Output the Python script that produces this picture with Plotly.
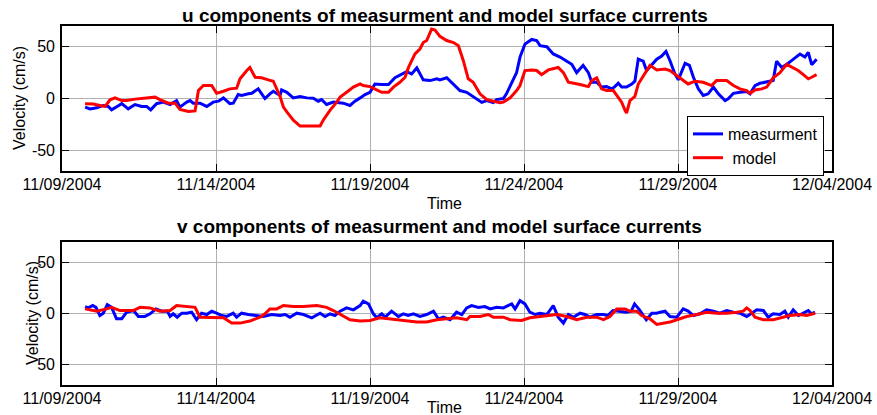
import pandas as pd
import plotly.graph_objects as go

# ---------------- data (days since 11/09/2004 00:00, velocity cm/s) ----------------
u_meas_t = [0.75,0.91,1.13,1.34,1.50,1.61,1.83,1.94,2.15,2.37,2.59,2.75,2.88,3.07,3.29,3.51,3.72,3.83,4.05,4.16,
            4.26,4.48,4.70,4.91,5.08,5.24,5.45,5.56,5.72,5.83,6.05,6.16,6.37,6.59,6.75,6.86,7.08,7.13,7.30,7.51,
            7.73,7.95,8.16,8.32,8.43,8.59,8.81,9.13,9.35,9.51,9.68,
            9.84,10.0,10.16,10.38,10.60,10.81,11.03,11.19,11.35,11.52,11.73,11.95,12.17,12.27,12.49,12.71,12.92,13.14,13.35,13.63,
            13.79,14.00,14.11,14.33,14.43,14.60,14.76,14.87,15.03,15.25,15.41,15.52,15.74,15.95,16.17,16.39,16.55,16.71,16.92,17.09,
            17.20,17.36,17.52,17.68,17.85,17.95,18.06,18.17,18.33,18.50,18.60,18.71,18.87,18.98,19.14,19.31,19.47,19.61,19.74,19.90,
            20.01,20.12,20.23,20.37,20.50,20.66,20.82,20.98,21.15,21.31,21.53,21.63,21.80,22.01,22.23,22.34,22.50,22.66,22.88,23.09,
            23.20,23.37,23.53,23.74,23.96,24.12,24.23,24.34,24.50]
u_meas_v = [-8.3,-10,-9,-6.7,-7.7,-11,-7,-5,-10,-5.8,-7.7,-7.7,-11,-5,-3.5,-5.8,-2,-8.3,-3.5,-2,
            -4.5,-4.5,-7.7,-3.5,-2.6,0.6,-5,-4.5,3.8,2.9,4.5,5,9.3,0,4.5,7,2.9,8.3,6,0.6,
            2,0.6,0.3,-2.6,-1,-5.8,-3.5,-4.5,-6.7,-2.6,0.6,
            3.8,6,14,13.5,13.5,20,23.7,26,23.7,29.5,18,17.3,19,18,20,14,7.7,6,2,-3.8,
            -2,-4,-1,0,4.5,15.7,25,40,52.5,57,56,51,50,43,40,36,33,25,32,25,
            15.7,15.7,11,11.5,9.3,11.5,14.7,11,11,14,16.7,38,36,27,32,38,41,45.5,36.5,23.7,
            18,27,34,32,20.5,9.3,2.9,4.5,11,4.5,-2,-0.3,5,6,6.7,4.5,12.5,14.7,15.7,17.3,
            36,30,33,38,43,40,44.5,32.7,38]

u_model_t = [0.75,1.02,1.23,1.40,1.56,1.72,1.94,2.10,2.37,2.64,2.80,3.02,3.18,3.45,3.67,3.83,4.10,4.32,4.43,4.59,
             4.86,5.02,5.24,5.45,5.67,5.78,6.00,6.10,6.27,6.48,6.70,6.86,7.08,7.19,7.30,7.51,7.73,8.38,8.48,8.70,
             8.92,9.03,9.24,9.46,9.68,
             9.78,10.0,10.16,10.38,10.60,10.76,10.97,11.14,11.25,11.46,11.62,11.73,11.84,12.00,12.11,12.27,12.49,12.71,12.87,13.03,
             13.19,13.35,13.57,13.79,14.00,14.22,14.33,14.55,14.76,14.87,15.03,15.25,15.41,15.57,15.79,16.11,16.28,16.44,16.82,17.09,
             17.20,17.36,17.52,17.68,17.90,18.01,18.17,18.28,18.33,18.44,18.60,18.71,18.92,19.09,19.31,19.58,19.74,19.96,20.12,20.33,
             20.55,20.82,21.09,21.25,21.58,21.80,22.01,22.23,22.34,22.50,22.72,22.88,23.09,23.31,23.53,23.74,23.90,24.07,24.23,24.34,
             24.50]
u_model_v = [-5,-5.4,-6.7,-7.7,-1.3,0.6,-2,-2,-0.6,0,0.6,1.3,-1,-4.5,-4.5,-10.6,-12.5,-12,7.7,12.5,
             12.5,5,7,9.3,10,19,27,30,20.5,20,18,16.7,2,-8.3,-13,-21,-26.6,-26.6,-21,-11.5,
             -3.5,1.3,6,11,14,
             12.5,11.5,9.3,6,6,11,15.7,20.5,30,43,47.8,54,56,67,66,60,56,54,51,36.5,
             19,15.7,4.5,-1,-2.6,-4,-3.5,0.6,7.7,12.5,27,27.6,27,23,27.6,30,25,15.7,13.5,11.5,
             17.3,20,9.3,7.7,7.7,2.9,-3.5,-11.5,-14,-2,2,14,23.7,32,27.6,28.5,27,22,19,14,
             16.7,15.7,12.5,17.3,17.3,12.5,9.3,7.7,5,8.3,9.3,11,20,25,33,30,27,23,19,20.5,
             23]

v_meas_t = [0.75,0.85,1.00,1.10,1.23,1.34,1.47,1.61,1.77,1.94,2.10,2.32,2.48,2.69,2.86,3.05,3.24,3.42,3.51,3.61,
            3.74,3.89,4.05,4.21,4.37,4.53,4.70,4.86,5.02,5.18,5.35,5.56,5.67,5.83,6.05,6.32,6.54,6.81,6.97,
            7.08,7.24,7.40,7.62,7.84,8.11,8.38,8.54,8.70,8.86,9.03,9.24,9.46,9.68,9.78,9.95,10.11,10.22,10.38,10.49,
            10.70,10.92,11.08,11.24,11.41,11.62,11.84,12.06,12.22,12.38,12.60,12.81,12.98,13.14,
            13.30,13.52,13.73,13.90,14.11,14.33,14.60,14.71,14.87,15.03,15.19,15.36,15.52,15.74,15.95,16.11,16.28,16.44,16.60,16.82,
            16.98,17.14,17.36,17.58,17.72,17.89,18.10,18.32,18.48,18.59,18.75,18.97,19.15,19.31,
            19.42,19.58,19.74,19.96,20.17,20.33,20.50,20.71,20.93,21.15,21.36,21.58,21.80,22.01,22.23,22.39,22.56,22.77,22.93,23.09,
            23.31,23.47,23.58,23.74,23.91,24.07,24.23,24.33,24.45]
v_meas_v = [6.8,5.5,7.8,6,-2,0.3,8.7,6,-5.2,-5.2,1.3,2.9,-2.9,-2.9,-0.3,4.5,2.3,2.3,-2.9,-0.3,
            -3.6,0.3,0.3,1.3,-6.1,0.3,-1,2.3,0.3,-2,-2.9,0.3,-3.6,0.3,-1,-2,-2.9,-1,-2,
            -2,-1,-3.6,0.3,-1,-4.2,0.3,-2.9,-0.3,-2,2.3,5.5,3.6,7.8,12,9.4,-0.3,-4.2,-0.3,-3.6,
            2.3,-2.9,-0.3,-2,-0.3,-2.9,-1,2.3,-5.2,-3.6,-6.1,1.3,-1,5.5,
            7.8,6,6.8,4.5,6,5.5,9.4,4.5,12.6,9.4,1.3,-1,0.3,-1,7.8,-3.6,-9.4,-1,-3.6,0.3,
            -1,-3.6,-1,-1,-2,2.9,2.3,1.3,2.3,9.4,3.6,-6.1,0.3,0.3,
            1.3,2.3,-2.9,-3.6,4.5,2.3,-2,-0.3,3.6,2.3,0.3,2.9,1.3,0.3,-2.9,0.3,3.6,2.9,-3.6,-0.3,
            -1,2.3,-3.6,3.6,-2,0.3,2.9,-0.3,1.3]

v_model_t = [0.75,1.13,1.45,1.61,1.88,2.32,2.53,2.86,3.18,3.51,3.72,4.05,4.32,4.48,4.91,5.24,5.51,5.78,6.10,6.43,
             6.59,6.75,
             6.97,7.19,7.51,7.84,8.27,8.59,8.81,9.03,9.35,9.68,10.0,10.32,10.65,11.08,11.52,11.84,12.17,12.49,12.81,13.14,
             13.25,13.57,13.84,14.00,14.33,14.55,14.92,15.19,15.63,16.06,16.39,16.71,17.04,17.36,17.58,17.79,18.01,18.28,18.44,18.66,
             18.82,19.09,19.31,
             19.42,19.74,19.96,20.28,20.61,20.93,21.26,21.58,21.91,22.12,22.23,22.34,22.50,22.77,23.09,23.31,23.63,23.96,24.18,24.45]
v_model_v = [4.5,2.3,4.5,6,2.9,2.9,6,5.5,2.3,2.9,7.8,6.8,6,-3.6,-3.6,-4.2,-9.4,-9.4,-7.4,-3.6,
             -0.3,4.5,
             4.5,7.8,6.8,6.8,7.8,6,2.9,-1,-6.1,-7.4,-6.8,-4.2,-5.2,-6.8,-8.4,-8.4,-6.1,-5.2,-4.2,-6.1,
             -2.9,-2.9,-1,-3.6,-3.6,-6.1,-6.8,-4.2,-2.9,-1,-2.9,-6.1,-3.6,-3.6,-6.1,-2.9,4.5,4.5,2.3,2.3,
             -2,-5.2,-10.7,
             -10,-8.4,-6.1,-2.9,-1,1.3,0.3,0.3,1.3,2.3,5.5,2.9,-3.6,-6.1,-6.1,-4.2,-2,-1,-2,0.3]

start_date = "2004-11-09"
end_date = "2004-12-04"
tick_dates = ["2004-11-09", "2004-11-14", "2004-11-19", "2004-11-24", "2004-11-29", "2004-12-04"]
tick_labels = ["11/09/2004", "11/14/2004", "11/19/2004", "11/24/2004", "11/29/2004", "12/04/2004"]
y_ticks = [-50, 0, 50]
y_tick_labels_u = ["-50", "0", "50"]
y_tick_labels_v = ["50", "0", "50"]
series_names = ["measurment", " model"]
titles = ["u components of measurment and model surface currents",
          "v components of measurment and model surface currents"]

base = pd.Timestamp(start_date)
def to_dt(days):
    return base + pd.to_timedelta(days, unit="D")

W, H = 877, 415
FONT = "Liberation Sans, Arial, Helvetica, sans-serif"
BLUE, RED = "#0000FF", "#FF0000"

fig = go.Figure()
fig.add_trace(go.Scatter(x=to_dt(u_meas_t), y=u_meas_v, mode="lines", name=series_names[0],
                         line=dict(color=BLUE, width=3), xaxis="x", yaxis="y"))
fig.add_trace(go.Scatter(x=to_dt(u_model_t), y=u_model_v, mode="lines", name=series_names[1],
                         line=dict(color=RED, width=3), xaxis="x", yaxis="y"))
fig.add_trace(go.Scatter(x=to_dt(v_meas_t), y=v_meas_v, mode="lines", showlegend=False,
                         line=dict(color=BLUE, width=3), xaxis="x2", yaxis="y2"))
fig.add_trace(go.Scatter(x=to_dt(v_model_t), y=v_model_v, mode="lines", showlegend=False,
                         line=dict(color=RED, width=3), xaxis="x2", yaxis="y2"))

def px_x(p):
    return p / W
def px_y(p):
    return 1 - p / H

xdom = [px_x(62), px_x(832)]
common_x = dict(type="date", range=[start_date, end_date], tickmode="array",
                tickvals=tick_dates, ticktext=tick_labels, showgrid=True,
                gridcolor="#b0b0b0", gridwidth=1, showline=True, linecolor="black",
                linewidth=1.6, mirror="ticks", ticks="inside", ticklen=7, tickcolor="black",
                tickfont=dict(family=FONT, size=16, color="black"), zeroline=False,
                domain=xdom, ticklabelstandoff=-2, automargin=False)
common_y = dict(range=[-70, 70], tickmode="array", tickvals=y_ticks,
                showgrid=True, gridcolor="#b0b0b0", gridwidth=1, showline=True,
                linecolor="black", linewidth=1.6, mirror="ticks", ticks="inside", ticklen=7,
                tickcolor="black", tickfont=dict(family=FONT, size=16, color="black"),
                zeroline=False, ticklabelstandoff=2, automargin=False)

fig.update_layout(
    width=W, height=H, margin=dict(l=0, r=0, t=0, b=0, autoexpand=False),
    paper_bgcolor="white", plot_bgcolor="white",
    font=dict(family=FONT, size=16, color="black"),
    xaxis=dict(common_x, anchor="y"),
    yaxis=dict(common_y, ticktext=y_tick_labels_u, domain=[px_y(171), px_y(26)], anchor="x"),
    xaxis2=dict(common_x, anchor="y2"),
    yaxis2=dict(common_y, ticktext=y_tick_labels_v, domain=[px_y(385), px_y(242)], anchor="x2"),
    legend=dict(x=px_x(687), y=px_y(116), xanchor="left", yanchor="top",
                bgcolor="white", bordercolor="black", borderwidth=1,
                font=dict(family=FONT, size=16, color="black"),
                tracegroupgap=0, itemwidth=30),
    showlegend=True,
)

ann = [
    dict(text="<b>%s</b>" % titles[0], x=px_x(445), y=px_y(15)),
    dict(text="<b>%s</b>" % titles[1], x=px_x(439), y=px_y(226)),
    dict(text="Time", x=px_x(444), y=px_y(203)),
    dict(text="Time", x=px_x(444), y=px_y(407)),
    dict(text="Velocity (cm/s)", x=px_x(20), y=px_y(98), textangle=-90),
    dict(text="Velocity (cm/s)", x=px_x(32), y=px_y(313), textangle=-90),
]
for a in ann:
    size = 19 if a["text"].startswith("<b>") else 16
    fig.add_annotation(xref="paper", yref="paper", xanchor="center", yanchor="middle",
                       showarrow=False, font=dict(family=FONT, size=size, color="black"), **a)

fig.write_html("out.html")
